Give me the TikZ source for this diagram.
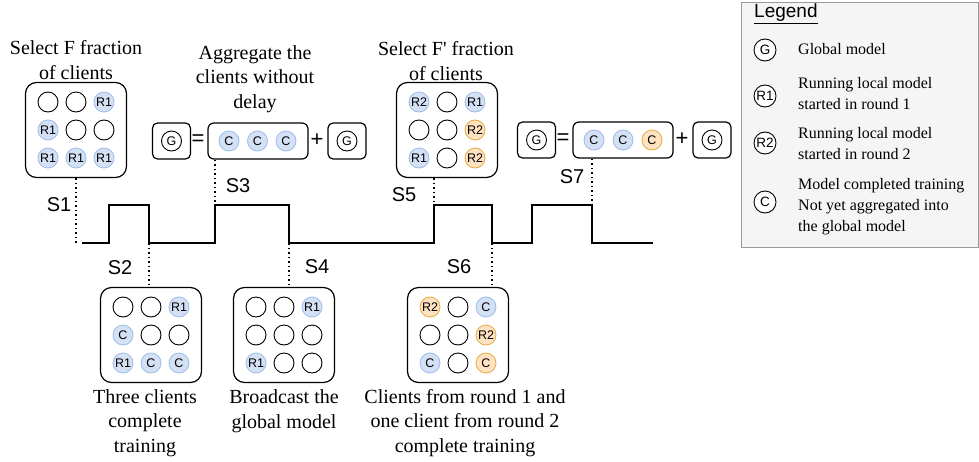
\documentclass[tikz,border=0pt]{standalone}
\usepackage{fontspec}
\setmainfont{Liberation Serif}
\setsansfont{Liberation Sans}
\newfontfamily\plainserif{Liberation Serif}
\definecolor{blueF}{HTML}{D4E1F5}
\definecolor{blueD}{HTML}{A3BFE8}
\definecolor{orF}{HTML}{FFE2C2}
\definecolor{orD}{HTML}{E8B04A}
\definecolor{legF}{HTML}{F5F5F5}
\definecolor{legD}{HTML}{9A9A9A}
\newcommand{\clientgrid}[2]{%
  \foreach \s/\t [count=\i from 0] in {#2} {
    \pgfmathtruncatemacro{\cc}{mod(\i,3)-1}
    \pgfmathtruncatemacro{\rr}{int(\i/3)-1}
    \node[\s] (#1-\i) at ([shift={(\cc*28,\rr*28)}]#1.center) {\t};
  }%
}
\begin{document}
\begin{tikzpicture}[x=1pt,y=-1pt,
  clW/.style={circle, draw=black, fill=white, line width=0.9, minimum size=20, inner sep=0,
    font=\sffamily\fontsize{12.5}{12.5}\selectfont},
  clB/.style={clW, fill=blueF, draw=blueD},
  clO/.style={clW, fill=orF, draw=orD},
  legcl/.style={clW, minimum size=22, font=\sffamily\fontsize{13.5}{13.5}\selectfont},
  grp/.style={draw=black, line width=1.2, rounded corners=11, minimum width=101, minimum height=95},
  gbox/.style={draw=black, line width=1.2, rounded corners=5, minimum width=38, minimum height=36},
  cbox/.style={draw=black, line width=1.2, rounded corners=6, minimum width=100, minimum height=36},
  ttl/.style={font=\fontsize{20}{24.5}\selectfont, align=center, inner sep=0},
  slbl/.style={font=\sffamily\fontsize{20}{20}\selectfont, inner sep=0},
  op/.style={font=\sffamily\fontsize{22}{22}\selectfont, inner sep=0},
  legtxt/.style={font=\fontsize{16}{21}\selectfont, align=left, anchor=west, inner sep=0},
  dotln/.style={line width=1.5, dash pattern=on 1.5pt off 3pt},
  sig/.style={line width=1.8, line join=miter}
]
\useasboundingbox (0,0) rectangle (979,461);

% ---------- titles ----------
\node[ttl] (t1) at (76,60) {Select F fraction\\of clients};
\node[ttl] (t3) at (255,79) {Aggregate the\\clients without\\delay};
\node[ttl] (t5) at (446,61) {Select F{\plainserif'} fraction\\of clients};
\node[ttl] (t2) at (145,423) {Three clients\\complete\\training};
\node[ttl] (t4) at (284,411) {Broadcast the\\global model};
\node[ttl] (t6) at (465,423) {Clients from round 1 and\\one client from round 2\\complete training};

% ---------- client grids ----------
\node[grp] (b1) at (76,130) {};
\clientgrid{b1}{clW/{},clW/{},clB/R1,clB/R1,clW/{},clW/{},clB/R1,clB/R1,clB/R1}
\node[grp] (b5) at (447,130) {};
\clientgrid{b5}{clB/R2,clW/{},clB/R1,clW/{},clW/{},clO/R2,clB/R1,clW/{},clO/R2}
\node[grp] (b2) at (151,335) {};
\clientgrid{b2}{clW/{},clW/{},clB/R1,clB/C,clW/{},clW/{},clB/R1,clB/C,clB/C}
\node[grp] (b4) at (284,335) {};
\clientgrid{b4}{clW/{},clW/{},clB/R1,clW/{},clW/{},clW/{},clB/R1,clW/{},clW/{}}
\node[grp] (b6) at (458,335) {};
\clientgrid{b6}{clO/R2,clW/{},clB/C,clW/{},clW/{},clO/R2,clB/C,clW/{},clO/C}

% ---------- aggregation equations ----------
\node[gbox] (ga1) at (171.5,141) {};
\node[clW] (ga1c) at (ga1.center) {G};
\node[op] (eq1) at (198,140) {=};
\node[cbox] (ca1) at (258,141) {};
\node[clB] (ca1a) at (229,141) {C};
\node[clB] (ca1b) at (257.5,141) {C};
\node[clB] (ca1c) at (286,141) {C};
\node[op] (pl1) at (317,140) {+};
\node[gbox] (gb1) at (347,141) {};
\node[clW] (gb1c) at (gb1.center) {G};

\node[gbox] (ga2) at (536.5,140) {};
\node[clW] (ga2c) at (ga2.center) {G};
\node[op] (eq2) at (563,139) {=};
\node[cbox] (ca2) at (623,140) {};
\node[clB] (ca2a) at (594,140) {C};
\node[clB] (ca2b) at (623,140) {C};
\node[clO] (ca2c) at (652,140) {C};
\node[op] (pl2) at (682,139) {+};
\node[gbox] (gb2) at (712,140) {};
\node[clW] (gb2c) at (gb2.center) {G};

% ---------- timing signal ----------
\coordinate (s0) at (82,243);
\coordinate (d1) at (76,243);
\coordinate (p1r) at (109,205);
\coordinate (p1f) at (149,243);
\coordinate (p2r) at (215,205);
\coordinate (p2f) at (289,243);
\coordinate (p3r) at (434,205);
\coordinate (p3f) at (492,243);
\coordinate (p4r) at (532,205);
\coordinate (p4f) at (592,205);
\coordinate (se) at (653,243);
\draw[sig] (s0) -- (p1r |- s0) -- (p1r) -- (p1f |- p1r) -- (p1f) -- (p2r |- p1f) -- (p2r)
  -- (p2f |- p2r) -- (p2f) -- (p3r |- p2f) -- (p3r) -- (p3f |- p3r) -- (p3f)
  -- (p4r |- p3f) -- (p4r) -- (p4f) -- (p4f |- se) -- (se);

% ---------- dotted step markers ----------
\draw[dotln] (b1.south) -- (d1);
\draw[dotln] (p1f) -- (p1f |- b2.north);
\draw[dotln] (ca1.south -| p2r) -- (p2r);
\draw[dotln] (p2f) -- (p2f |- b4.north);
\draw[dotln] (b5.south -| p3r) -- (p3r);
\draw[dotln] (p3f) -- (p3f |- b6.north);
\draw[dotln] (ca2.south -| p4f) -- (p4f);

\node[slbl] (S1) at (59,205) {S1};
\node[slbl] (S2) at (120,268) {S2};
\node[slbl] (S3) at (238,186) {S3};
\node[slbl] (S4) at (317,267) {S4};
\node[slbl] (S5) at (404,195) {S5};
\node[slbl] (S6) at (459,267) {S6};
\node[slbl] (S7) at (572,177) {S7};

% ---------- legend ----------
\node[draw=legD, fill=legF, line width=1.3, minimum width=237, minimum height=245, anchor=north west, inner sep=0] (leg) at (740.5,1.5) {};
\node[font=\sffamily\fontsize{19}{19}\selectfont, anchor=west, inner sep=0] (legT) at (754,14) {\underline{Legend}};
\node[legcl] (lG) at (765,50) {G};
\node[legcl] (lR1) at (765,96) {R1};
\node[legcl] (lR2) at (765,143) {R2};
\node[legcl] (lC) at (765,202) {C};
\node[legtxt] (lGt) at (798,49) {Global model};
\node[legtxt] (lR1t) at (798,93.5) {Running local model\\started in round 1};
\node[legtxt] (lR2t) at (798,144) {Running local model\\started in round 2};
\node[legtxt] (lCt) at (798,207) {Model completed training\\Not yet aggregated into\\the global model};
\end{tikzpicture}
\end{document}
